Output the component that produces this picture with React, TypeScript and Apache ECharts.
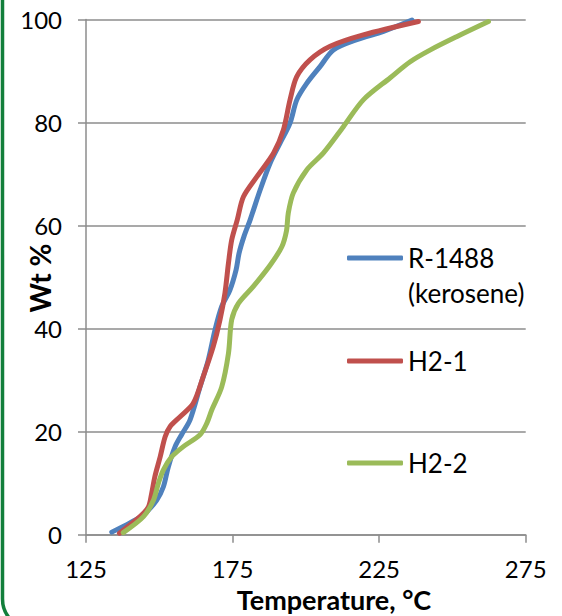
import React, { useEffect, useRef } from "react";
import * as echarts from "echarts";

// Axis settings (°C on x, Wt % on y)
const xMin = 125;
const xMax = 275;
const xStep = 50;
const yMin = 0;
const yMax = 100;
const yStep = 20;

const seriesNames = ["R-1488 (kerosene)", "H2-1", "H2-2"];
const seriesColors = ["#4F81BD", "#C0504D", "#9BBB59"];

// R-1488 (kerosene)
const r1488Temp = [133.8, 140, 144.5, 149.1, 151.4, 153.1, 155.4, 157.7, 160.5, 163.9, 166.7, 169, 171.3, 174.1, 176.2, 177.2, 178.9, 181, 184.4, 187.8, 191.2, 194.6, 196.9, 200.3, 204.9, 209.4, 217.4, 226.5, 236.2];
const r1488Wt = [0.5, 2.3, 3.8, 6.7, 9.3, 13.2, 17.1, 19.5, 22.3, 28.7, 33.9, 39.7, 44.3, 47.5, 51.4, 54.6, 57.9, 61.1, 66.9, 72.1, 76, 79.9, 84.4, 87.6, 90.9, 94.1, 96.1, 97.7, 99.9];

// H2-1
const h21Temp = [136.4, 143.4, 146.3, 147.4, 148.5, 150.3, 152, 153.7, 157.1, 161.6, 165, 168.4, 170.7, 172.4, 173.6, 174.7, 176.6, 178.7, 183.3, 189, 192.3, 194.6, 196.9, 201.5, 208.3, 219.6, 238.4];
const h21Wt = [0.3, 3.5, 5.4, 8, 11.3, 15.1, 19, 21, 22.9, 25.5, 30.7, 36.5, 41.7, 46.9, 52.7, 57.2, 61.1, 65.6, 69.5, 74.1, 78.5, 84.4, 88.9, 92.2, 94.8, 97, 99.6];

// H2-2
const h22Temp = [137.7, 144.6, 148, 149.7, 151.4, 154.2, 158.2, 163.9, 166.2, 167.9, 171.3, 173.6, 174.7, 177, 182.1, 187.8, 191.8, 193.4, 194, 195.7, 200.3, 206, 212.8, 219.6, 228.8, 235.6, 242.5, 251.6, 262.3];
const h22Wt = [0.4, 3.5, 6.7, 10, 12.6, 15.1, 17.1, 19.4, 21.6, 24.2, 28.7, 35.2, 41.7, 44.9, 48.2, 52.3, 55.9, 59, 62.4, 66.3, 70.8, 74.1, 79.2, 84.4, 88.7, 91.8, 94.1, 96.7, 99.6];

const xTitle = "Temperature, °C";
const yTitle = "Wt %";

const FONT = "Lato, 'Open Sans', sans-serif";
const AXIS_GRAY = "#8c8c8c";

function pairs(t: number[], w: number[]) {
  // shift x by xMin so ticks start exactly at xMin (labels add it back)
  return t.map((v, i) => [v - xMin, w[i]]);
}

export default function App() {
  const ref = useRef<HTMLDivElement>(null);

  useEffect(() => {
    if (!ref.current) return;
    const chart = echarts.init(ref.current, undefined, { renderer: "svg" });
    const temps = [r1488Temp, h21Temp, h22Temp];
    const wts = [r1488Wt, h21Wt, h22Wt];

    const legendText = { color: "#000", fontSize: 26, fontFamily: FONT, lineHeight: 35 };

    const option: any = {
      animation: false,
      backgroundColor: "#ffffff",
      color: seriesColors,
      grid: { left: 86, right: 36.3, top: 19.5, bottom: 81.3, containLabel: false },
      xAxis: {
        type: "value",
        min: 0,
        max: xMax - xMin,
        interval: xStep,
        axisLine: { show: true, onZero: false, lineStyle: { color: AXIS_GRAY, width: 1.5 } },
        axisTick: { show: true, inside: false, length: 8, lineStyle: { color: AXIS_GRAY, width: 1.5 } },
        splitLine: { show: false },
        axisLabel: {
          margin: 22,
          color: "#000",
          fontSize: 24,
          fontFamily: FONT,
          formatter: (v: number) => String(v + xMin),
        },
      },
      yAxis: {
        type: "value",
        min: yMin,
        max: yMax,
        interval: yStep,
        axisLine: { show: true, onZero: false, lineStyle: { color: AXIS_GRAY, width: 1.5 } },
        axisTick: { show: true, inside: false, length: 8, lineStyle: { color: AXIS_GRAY, width: 1.5 } },
        splitLine: { show: true, lineStyle: { color: AXIS_GRAY, width: 1.5 } },
        axisLabel: { margin: 24, color: "#000", fontSize: 24, fontFamily: FONT },
      },
      legend: [
        {
          data: [seriesNames[0]],
          left: 347,
          top: 205.5,
          padding: 0,
          icon: "roundRect",
          itemWidth: 56,
          itemHeight: 5,
          // leading blank line keeps the icon level with "R-1488"
          formatter: () => "\nR-1488\n(kerosene)",
          textStyle: legendText,
        },
        {
          data: [seriesNames[1]],
          left: 347,
          top: 343.5,
          padding: 0,
          icon: "roundRect",
          itemWidth: 56,
          itemHeight: 5,
          textStyle: legendText,
        },
        {
          data: [seriesNames[2]],
          left: 347,
          top: 445.5,
          padding: 0,
          icon: "roundRect",
          itemWidth: 56,
          itemHeight: 5,
          textStyle: legendText,
        },
      ],
      series: seriesNames.map((name, i) => ({
        name,
        type: "line",
        data: pairs(temps[i], wts[i]),
        smooth: 0.3,
        showSymbol: false,
        symbol: "none",
        lineStyle: { color: seriesColors[i], width: 5, cap: "round", join: "round" },
        itemStyle: { color: seriesColors[i] },
      })),
      graphic: [
        {
          type: "rect",
          silent: true,
          shape: { x: 2.5, y: -40, width: 700, height: 669, r: 30 },
          style: { fill: "none", stroke: "#137F3B", lineWidth: 3.5 },
        },
        {
          type: "text",
          x: 334,
          y: 599,
          style: {
            text: xTitle,
            font: `bold 27px ${FONT}`,
            fill: "#000",
            align: "center",
            verticalAlign: "middle",
          },
        },
        {
          type: "text",
          x: 40,
          y: 278,
          rotation: Math.PI / 2,
          style: {
            text: yTitle,
            font: `bold 28px ${FONT}`,
            fill: "#000",
            align: "center",
            verticalAlign: "middle",
          },
        },
      ],
    };

    chart.setOption(option);
    return () => chart.dispose();
  }, []);

  return (
    <div
      ref={ref}
      style={{ position: "fixed", left: 0, top: 0, width: 562, height: 616, background: "#fff" }}
    />
  );
}
